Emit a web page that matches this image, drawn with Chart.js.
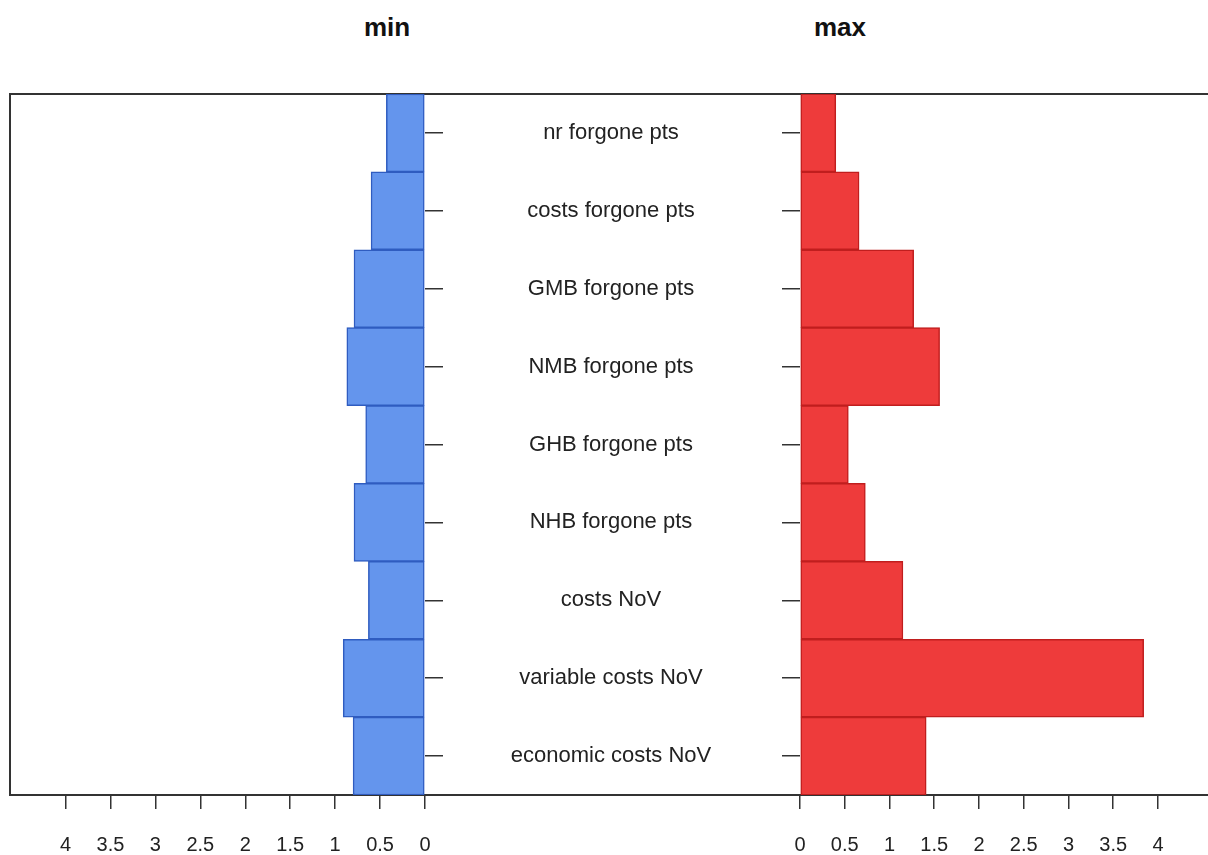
<!DOCTYPE html>
<html>
<head>
<meta charset="utf-8">
<script src="https://cdn.jsdelivr.net/npm/chart.js@4"></script>
<style>
  html, body { margin: 0; padding: 0; background: #fff; }
  #wrap { position: relative; width: 1208px; height: 855px; overflow: hidden; background: #fff; }
  #frame {
    position: absolute; left: 9px; top: 93px; width: 1220px; height: 703px;
    border: 2px solid #333; box-sizing: border-box;
  }
  canvas { position: absolute; top: 0; }
  #minChart { left: 0; }
  #maxChart { left: 425px; }
  .ttl {
    position: absolute; top: 12px; font: bold 26px "Liberation Sans", Arial, sans-serif;
    color: #111; transform: translateX(-50%);
  }
</style>
</head>
<body>
<div id="wrap">
  <div id="frame"></div>
  <div class="ttl" style="left:387px">min</div>
  <div class="ttl" style="left:840px">max</div>
  <canvas id="minChart" width="443" height="855"></canvas>
  <canvas id="maxChart" width="783" height="855"></canvas>
</div>
<script>
const categories = [
  "nr forgone pts",
  "costs forgone pts",
  "GMB forgone pts",
  "NMB forgone pts",
  "GHB forgone pts",
  "NHB forgone pts",
  "costs NoV",
  "variable costs NoV",
  "economic costs NoV",
];
const minValues = [0.43, 0.60, 0.79, 0.87, 0.66, 0.79, 0.63, 0.91, 0.80];
const maxValues = [0.40, 0.66, 1.27, 1.56, 0.54, 0.73, 1.15, 3.84, 1.41];
const tickStep = 0.5;
const tickMax = 4;

const FONT = "'Liberation Sans', Arial, sans-serif";
const INK = "#222";

// widest label decides where chart.js puts centred labels
const measureCtx = document.createElement("canvas").getContext("2d");
measureCtx.font = `22px ${FONT}`;
const widest = Math.max(...categories.map((c) => measureCtx.measureText(c).width));

function noPadding(axis) {
  axis.paddingLeft = 0;
  axis.paddingRight = 0;
  axis.paddingTop = 0;
  axis.paddingBottom = 0;
}

function xScale(max, reverse) {
  return {
    type: "linear",
    min: 0,
    max: max,
    reverse: reverse,
    afterBuildTicks: (axis) => {
      axis.ticks = axis.ticks.filter((t) => t.value <= tickMax + 1e-9);
    },
    afterFit: (axis) => {
      axis.height = 60;
      noPadding(axis);
    },
    ticks: {
      stepSize: tickStep,
      color: INK,
      padding: 24,
      maxRotation: 0,
      font: { family: FONT, size: 20 },
      callback: (v) => String(Math.round(v * 10) / 10),
    },
    grid: { drawOnChartArea: false, tickLength: 14, color: "#333", lineWidth: 1.5 },
    border: { display: false },
  };
}

function baseOptions() {
  return {
    indexAxis: "y",
    responsive: false,
    animation: false,
    devicePixelRatio: 1,
    plugins: { legend: { display: false }, tooltip: { enabled: false } },
  };
}

new Chart(document.getElementById("minChart"), {
  type: "bar",
  data: {
    labels: categories,
    datasets: [{
      data: minValues,
      backgroundColor: "#6495ED",
      borderColor: "#2F5CC0",
      borderWidth: 1.5,
      borderSkipped: false,
      barPercentage: 1,
      categoryPercentage: 1,
    }],
  },
  options: {
    ...baseOptions(),
    layout: { padding: { left: 10, top: 94, right: 0, bottom: 0 } },
    scales: {
      x: xScale(4.618, true),
      y: {
        position: "right",
        offset: true,
        afterFit: (axis) => {
          axis.width = 18;
          noPadding(axis);
        },
        ticks: { display: false },
        grid: { offset: false, drawOnChartArea: false, tickLength: 18, color: "#333", lineWidth: 1.5 },
        border: { display: false },
      },
    },
  },
});

new Chart(document.getElementById("maxChart"), {
  type: "bar",
  data: {
    labels: categories,
    datasets: [{
      data: maxValues,
      backgroundColor: "#EE3B3B",
      borderColor: "#C01E1E",
      borderWidth: 1.5,
      borderSkipped: false,
      barPercentage: 1,
      categoryPercentage: 1,
    }],
  },
  options: {
    ...baseOptions(),
    layout: { padding: { left: 0, top: 94, right: 0, bottom: 0 } },
    scales: {
      x: xScale(4.559, false),
      y: {
        position: "left",
        offset: true,
        afterFit: (axis) => {
          axis.width = 375;
          noPadding(axis);
        },
        ticks: {
          color: INK,
          font: { family: FONT, size: 22 },
          crossAlign: "center",
          padding: 171 - widest / 2,
        },
        grid: { offset: false, drawOnChartArea: false, tickLength: 18, color: "#333", lineWidth: 1.5 },
        border: { display: false },
      },
    },
  },
});
</script>
</body>
</html>
